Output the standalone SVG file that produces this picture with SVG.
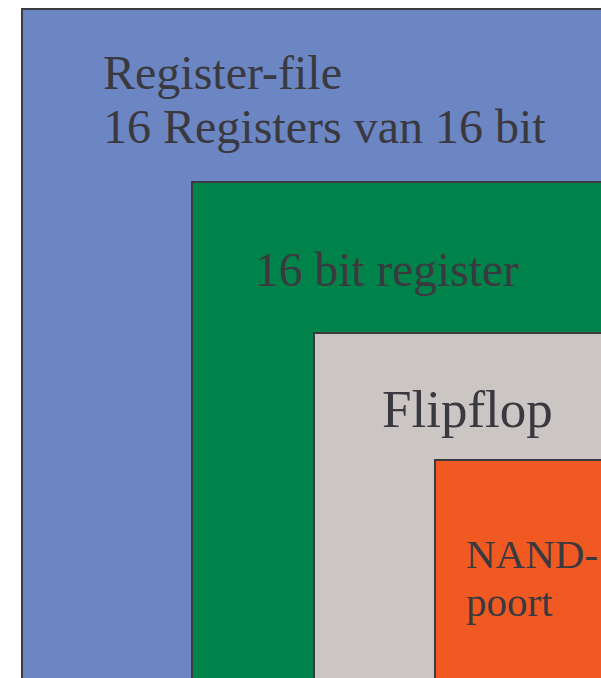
<svg xmlns="http://www.w3.org/2000/svg" width="601" height="678" viewBox="0 0 601 678">
  <style>
    .box { stroke: #3b3a40; stroke-width: 2; }
    .lbl { font-family: "Liberation Serif", "Times New Roman", serif; fill: #3a393f; }
  </style>
  <rect x="0" y="0" width="601" height="678" fill="#ffffff"/>
  <g id="register-file">
    <rect class="box" x="22" y="9" width="600" height="690" fill="#6b86c3"/>
    <text class="lbl" x="103" y="89" font-size="48">Register-file</text>
    <text class="lbl" x="103" y="143" font-size="48">16 Registers van 16 bit</text>
  </g>
  <g id="register-16bit">
    <rect class="box" x="192" y="182" width="430" height="520" fill="#00834a"/>
    <text class="lbl" x="255" y="286" font-size="47.5">16 bit register</text>
  </g>
  <g id="flipflop">
    <rect class="box" x="314" y="333" width="310" height="370" fill="#cbc5c3"/>
    <text class="lbl" x="382" y="427" font-size="53">Flipflop</text>
  </g>
  <g id="nand-poort">
    <rect class="box" x="435" y="460" width="190" height="240" fill="#f05a22"/>
    <text class="lbl" x="466" y="568" font-size="41">NAND-</text>
    <text class="lbl" x="466" y="616" font-size="41">poort</text>
  </g>
  <g id="connectors"/>
</svg>
